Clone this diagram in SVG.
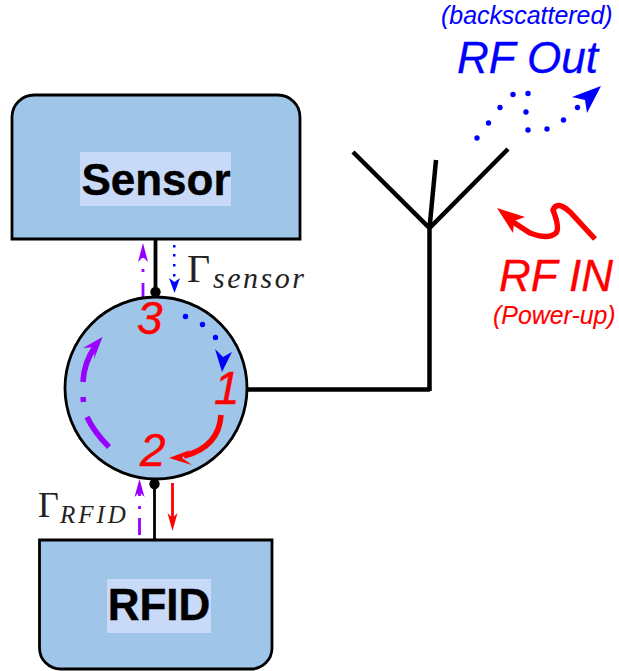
<svg xmlns="http://www.w3.org/2000/svg" width="619" height="671" viewBox="0 0 619 671">
<style>
.box{fill:#9fc5e8;stroke:#000;stroke-width:2.800}
.bg{fill:#c9daf8}
.t{font-family:"Liberation Sans",Arial,sans-serif;font-weight:bold;font-size:44px;text-anchor:middle;fill:#000;stroke:#000;stroke-width:.4}
.i{font-family:"Liberation Sans",Arial,sans-serif;font-style:italic}
.big{font-size:44px;stroke-width:.3}
.sm{font-size:24.900px}
.n{font-size:46px;stroke-width:.4}
.r{fill:#f00;stroke:#f00}
.b{fill:#00f;stroke:#00f}
.sm{stroke-width:.1}
.m{font-family:"Liberation Serif","Times New Roman",serif;fill:#222}
.w{fill:none;stroke:#000}
.sl{fill:none;stroke-linecap:butt}
.bd{fill:#00f}
.pf{fill:#90f}
.rf{fill:#f00}
</style>
<g id="connectors">
<path class="w" stroke-width="3.800" d="M155.500 239V292"/>
<path class="w" stroke-width="2.800" d="M154.500 484V540"/>
<path class="w" stroke-width="4.500" d="M246 389.500H430M429.500 391V228M353 152L429.500 228L508 149M436 160L429.500 228"/>
<circle cx="155.500" cy="292" r="5.200"/>
<circle cx="154.500" cy="484" r="5.200"/>
<path class="sl" stroke="#90f" stroke-width="2.800" d="M143 297V283M143 272V269M143 258V252"/>
<path class="pf" d="M143 243L148 262L143 257L138 262Z"/>
<path class="bd" d="M173 245h2.500v2.500h-2.500zM173 254h2.500v2.500h-2.500zM173 264h2.500v2.500h-2.500zM173 274h2.500v2.500h-2.500z"/>
<path class="bd" d="M174.500 293L169 278L174.500 282L180 278Z"/>
<path class="sl" stroke="#90f" stroke-width="2.800" d="M139.500 535V518M139.500 509V506M139.500 496V490"/>
<path class="pf" d="M139.500 479L144.500 497L139.500 492L134.500 497Z"/>
<path class="sl" stroke="#f00" stroke-width="2.800" d="M172.500 483V522"/>
<path class="rf" d="M172.500 531L167.500 513L172.500 518L177.500 513Z"/>
</g>
<g id="sensor">
<path class="box" d="M12 239V117A22 22 0 0 1 34 95H278A22 22 0 0 1 300 117V239Z"/>
<rect class="bg" x="80" y="152" width="151" height="54"/>
<text class="t" x="156" y="195">Sensor</text>
</g>
<g id="rfid">
<path class="box" d="M39.500 540H272V648A21 21 0 0 1 251 669H60.500A21 21 0 0 1 39.500 648Z"/>
<rect class="bg" x="107" y="579" width="104" height="54"/>
<text class="t" x="159" y="620">RFID</text>
</g>
<g id="circulator">
<circle class="box" cx="156" cy="388" r="91"/>
<g class="bd"><circle cx="185.500" cy="316.500" r="2.700"/><circle cx="202.500" cy="324.500" r="2.700"/><circle cx="215.500" cy="337.500" r="2.700"/></g>
<path class="bd" d="M222 372L215 349L223 357L232 352Z"/>
<path class="sl" stroke="#f00" stroke-width="5.500" d="M221 415Q219 447 184 456"/>
<path class="rf" d="M169 458L190 450L182 458L192 465Z"/>
<path class="sl" stroke="#90f" stroke-width="5.500" d="M109 447Q94 432 87 417M83 397L83.500 402M83 382Q84 362 95 347"/>
<path class="pf" d="M102.500 337L94 359L95 347L83 348Z"/>
<text class="i r n" x="137" y="334">3</text>
<text class="i r n" x="214" y="404">1</text>
<text class="i r n" x="140" y="466">2</text>
</g>
<g id="rf-out">
<text class="i b sm" x="441" y="24">(backscattered)</text>
<text class="i b big" x="457" y="73">RF Out</text>
<g class="bd"><circle cx="477" cy="138" r="2.700"/><circle cx="488.500" cy="123" r="2.700"/><circle cx="500" cy="107.500" r="2.700"/><circle cx="513" cy="94.500" r="2.700"/><circle cx="528" cy="93.500" r="2.700"/><circle cx="526" cy="112" r="2.700"/><circle cx="528" cy="130" r="2.700"/><circle cx="547" cy="129" r="2.700"/><circle cx="563.500" cy="120" r="2.700"/><circle cx="577.500" cy="107.500" r="2.700"/></g>
<path class="bd" d="M601 86L587 113L585 100L572 97Z"/>
</g>
<g id="rf-in">
<path fill="none" stroke="#f00" stroke-width="5.500" d="M595 239L570 212Q557 200 553 210Q560 228 556 233Q548 240 530 233L513 222"/>
<path class="rf" d="M497 208L525 217L514 221L513 233Z"/>
<text class="i r big" x="499" y="291">RF IN</text>
<text class="i r sm" x="493" y="324">(Power-up)</text>
</g>
<g id="gamma-labels">
<text class="m" font-size="40" x="187" y="282">Γ</text>
<text class="m" font-size="30" font-style="italic" letter-spacing="2.500" x="213" y="288">sensor</text>
<text class="m" font-size="36" x="38" y="517">Γ</text>
<text class="m" font-size="25" font-style="italic" letter-spacing="3" x="60" y="523">RFID</text>
</g>
</svg>
